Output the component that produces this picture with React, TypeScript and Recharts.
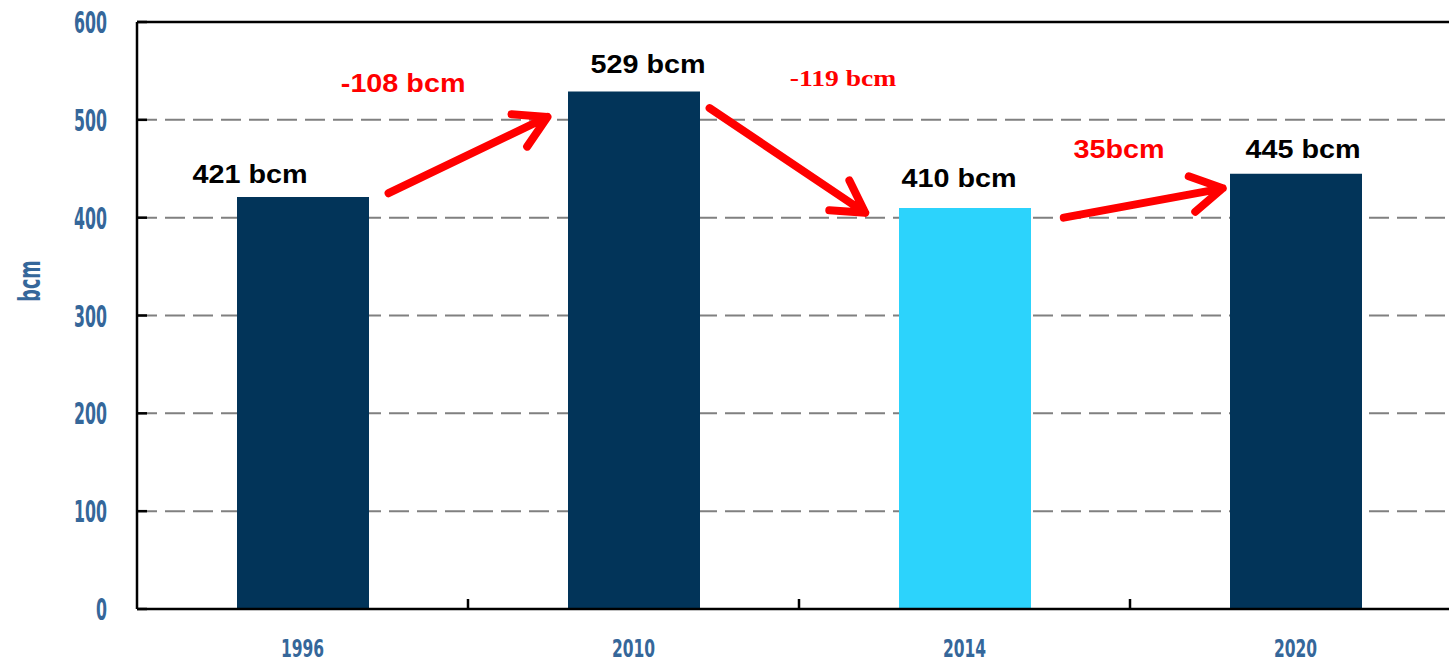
import React from 'react';
import {
  BarChart,
  Bar,
  Cell,
  XAxis,
  YAxis,
  CartesianGrid,
  ReferenceLine,
  ReferenceDot,
  LabelList,
} from 'recharts';

// Gas demand by year (bcm)
const years = ['1996', '2010', '2014', '2020'];
const volumes = [421, 529, 410, 445];
const highlightYear = '2014';
const valueLabels = ['421 bcm', '529 bcm', '410 bcm', '445 bcm'];
const yTicks = [0, 100, 200, 300, 400, 500, 600];

// Change annotations between years: arrow tail -> head, in axis units
const changeArrows = [
  { from: { x: 0.26, y: 425 }, to: { x: 0.74, y: 503 } },
  { from: { x: 1.23, y: 512 }, to: { x: 1.7, y: 405 } },
  { from: { x: 2.3, y: 400 }, to: { x: 2.78, y: 430 } },
];
const changeLabels = [
  { x: 0.304, y: 528, text: '-108 bcm', serif: false },
  { x: 1.633, y: 535, text: '-119 bcm', serif: true },
  { x: 2.467, y: 461, text: '35bcm', serif: false },
];

const data = years.map((year, i) => ({ pos: i, year, value: volumes[i] }));

const DARK = '#023459';
const LIGHT = '#2CD3FC';
const AXIS_TEXT = '#35679A';
const NARROW = "'DejaVu Sans Condensed', 'DejaVu Sans', sans-serif";
const SANS = "'Liberation Sans', Arial, sans-serif";
const SERIF = "'Liberation Serif', 'Times New Roman', serif";

// horizontal nudges of the value labels
const LABEL_DX = [-53, 14, -6, 7];
const LABEL_GAP = [14, 18, 21, 16];

function StretchText(props: {
  x: number;
  y: number;
  sx: number;
  children: React.ReactNode;
  fontSize: number;
  fontFamily: string;
  fill: string;
  fontWeight?: string | number;
  anchor?: 'start' | 'middle' | 'end';
  rotate?: number;
}) {
  const { x, y, sx, children, fontSize, fontFamily, fill, fontWeight, anchor, rotate } = props;
  const rot = rotate ? ` rotate(${rotate})` : '';
  return (
    <text
      transform={`translate(${x},${y})${rot} scale(${sx},1)`}
      x={0}
      y={0}
      textAnchor={anchor || 'middle'}
      fontSize={fontSize}
      fontFamily={fontFamily}
      fontWeight={fontWeight}
      fill={fill}
    >
      {children}
    </text>
  );
}

function YTick(props: any) {
  const { x, y, payload } = props;
  return (
    <g>
      <line x1={x} y1={y} x2={x + 10} y2={y} stroke="#000" strokeWidth={2.5} />
      <StretchText
        x={x - 30}
        y={y + 11}
        sx={0.585}
        fontSize={30}
        fontFamily={NARROW}
        fontWeight="bold"
        fill={AXIS_TEXT}
        anchor="end"
      >
        {payload.value}
      </StretchText>
    </g>
  );
}

function XTick(props: any) {
  const { x, y, payload } = props;
  const v = payload.value as number;
  if (!Number.isInteger(v)) {
    return <line x1={x} y1={y} x2={x} y2={y - 10} stroke="#000" strokeWidth={2.5} />;
  }
  return (
    <StretchText x={x} y={y + 48} sx={0.69} fontSize={25} fontFamily={NARROW} fontWeight="bold" fill={AXIS_TEXT}>
      {years[v]}
    </StretchText>
  );
}

function ValueLabel(props: any) {
  const { x, y, width, index } = props;
  return (
    <StretchText
      x={x + width / 2 + LABEL_DX[index]}
      y={y - LABEL_GAP[index]}
      sx={1.15}
      fontSize={25}
      fontFamily={SANS}
      fontWeight="bold"
      fill="#000"
    >
      {valueLabels[index]}
    </StretchText>
  );
}

function Arrow(props: any) {
  const { x1, y1, x2, y2 } = props;
  const ang = Math.atan2(y2 - y1, x2 - x1);
  const len = 36;
  const spread = (30 * Math.PI) / 180;
  const b1x = x2 - len * Math.cos(ang - spread);
  const b1y = y2 - len * Math.sin(ang - spread);
  const b2x = x2 - len * Math.cos(ang + spread);
  const b2y = y2 - len * Math.sin(ang + spread);
  return (
    <path
      d={`M${x1},${y1} L${x2},${y2} M${b1x},${b1y} L${x2},${y2} L${b2x},${b2y}`}
      fill="none"
      stroke="#FF0000"
      strokeWidth={8}
      strokeLinecap="round"
      strokeLinejoin="round"
    />
  );
}

function YLabel(props: any) {
  const { viewBox } = props;
  return (
    <StretchText
      x={viewBox.x + 40}
      y={viewBox.y + 259}
      sx={0.63}
      rotate={-90}
      fontSize={31}
      fontFamily={NARROW}
      fontWeight="bold"
      fill={AXIS_TEXT}
    >
      bcm
    </StretchText>
  );
}

export default function App() {
  return (
    <div style={{ position: 'fixed', left: 0, top: 0, width: 1449, height: 663, overflow: 'hidden', background: '#fff' }}>
      <BarChart
        width={1470}
        height={663}
        data={data}
        margin={{ top: 22, right: 9, bottom: 0, left: 0 }}
      >
        <CartesianGrid vertical={false} stroke="#808080" strokeWidth={2} strokeDasharray="20 8" />
        <XAxis
          dataKey="pos"
          type="number"
          domain={[-0.5, 3.5]}
          ticks={[0, 0.5, 1, 1.5, 2, 2.5, 3]}
          interval={0}
          height={54}
          tickSize={0}
          tickMargin={0}
          tickLine={false}
          axisLine={{ stroke: '#000', strokeWidth: 2.5 }}
          tick={<XTick />}
          allowDataOverflow
        />
        <YAxis
          type="number"
          domain={[0, 600]}
          ticks={yTicks}
          interval={0}
          width={137}
          tickSize={0}
          tickMargin={0}
          tickLine={false}
          axisLine={{ stroke: '#000', strokeWidth: 2.5 }}
          tick={<YTick />}
          label={<YLabel />}
        />
        <ReferenceLine y={600} stroke="#000" strokeWidth={2.5} />
        <Bar dataKey="value" barSize={132} isAnimationActive={false}>
          {data.map((d) => (
            <Cell key={d.year} fill={d.year === highlightYear ? LIGHT : DARK} />
          ))}
          <LabelList dataKey="value" content={<ValueLabel />} />
        </Bar>
        {changeArrows.map((a, i) => (
          <ReferenceLine
            key={`arrow-${i}`}
            segment={[a.from, a.to]}
            shape={(p: any) => <Arrow {...p} />}
          />
        ))}
        {changeLabels.map((c, i) => (
          <ReferenceDot
            key={`chg-${i}`}
            x={c.x}
            y={c.y}
            r={0}
            shape={(p: any) =>
              c.serif ? (
                <StretchText x={p.cx} y={p.cy} sx={1.2} fontSize={23} fontFamily={SERIF} fontWeight="bold" fill="#FF0000">
                  {c.text}
                </StretchText>
              ) : (
                <StretchText x={p.cx} y={p.cy} sx={1.15} fontSize={25} fontFamily={SANS} fontWeight="bold" fill="#FF0000">
                  {c.text}
                </StretchText>
              )
            }
          />
        ))}
      </BarChart>
    </div>
  );
}
